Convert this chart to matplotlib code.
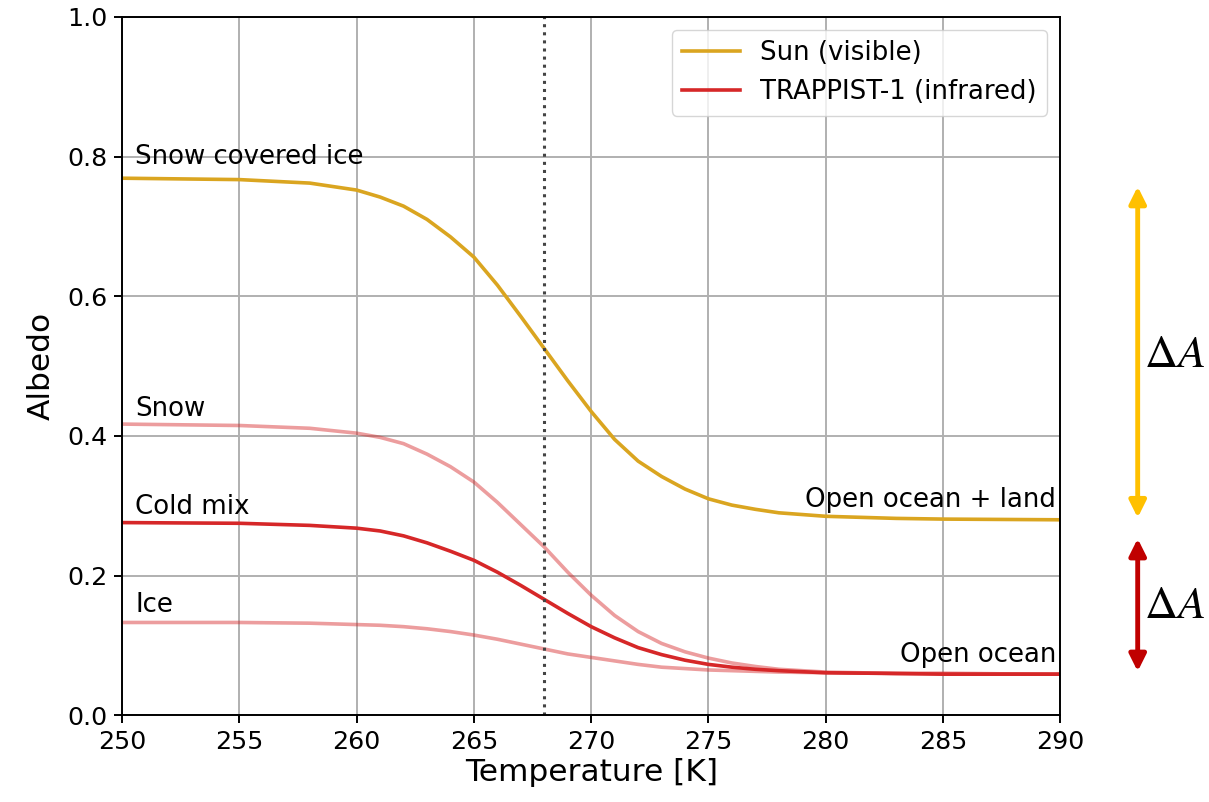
import matplotlib.pyplot as plt

# temperatures [K]
temp = [250, 255, 258, 260, 261, 262, 263, 264, 265, 266, 267, 268, 269, 270,
        271, 272, 273, 274, 275, 276, 277, 278, 280, 283, 285, 290]

# visible albedo (Sun)
sun_vis = [0.769, 0.767, 0.762, 0.752, 0.742, 0.729, 0.710, 0.685, 0.656, 0.616,
           0.571, 0.525, 0.479, 0.435, 0.395, 0.364, 0.342, 0.324, 0.310, 0.301,
           0.295, 0.290, 0.285, 0.282, 0.281, 0.280]

# infrared albedos (TRAPPIST-1)
snow_ir = [0.417, 0.415, 0.411, 0.404, 0.398, 0.389, 0.374, 0.356, 0.334, 0.305,
           0.273, 0.241, 0.205, 0.172, 0.143, 0.120, 0.103, 0.091, 0.082, 0.075,
           0.070, 0.066, 0.062, 0.060, 0.060, 0.059]
coldmix_ir = [0.276, 0.275, 0.272, 0.268, 0.264, 0.257, 0.247, 0.235, 0.222, 0.205,
              0.186, 0.166, 0.146, 0.127, 0.111, 0.097, 0.087, 0.079, 0.073, 0.069,
              0.066, 0.064, 0.061, 0.060, 0.059, 0.059]
ice_ir = [0.133, 0.133, 0.132, 0.130, 0.129, 0.127, 0.124, 0.120, 0.115, 0.109,
          0.102, 0.095, 0.088, 0.083, 0.078, 0.073, 0.069, 0.067, 0.065, 0.064,
          0.063, 0.062, 0.061, 0.060, 0.060, 0.059]

t_freeze = 268

plt.rcParams['mathtext.fontset'] = 'stix'

fig = plt.figure(figsize=(12.09, 8.02), dpi=100)
ax = fig.add_axes([0.101, 0.108, 0.776, 0.871])

ax.plot(temp, sun_vis, color='#DAA520', lw=2.6, label='Sun (visible)')
ax.plot(temp, coldmix_ir, color='#D62728', lw=2.6, label='TRAPPIST-1 (infrared)')
ax.plot(temp, snow_ir, color='#D62728', lw=2.6, alpha=0.45)
ax.plot(temp, ice_ir, color='#D62728', lw=2.6, alpha=0.45)
ax.axvline(t_freeze, color='#444444', ls=':', lw=2.2)

fs = 18.7
ax.text(250.55, 0.789, 'Snow covered ice', fontsize=fs, va='baseline')
ax.text(250.55, 0.428, 'Snow', fontsize=fs, va='baseline')
ax.text(250.55, 0.288, 'Cold mix', fontsize=fs, va='baseline')
ax.text(250.55, 0.148, 'Ice', fontsize=fs, va='baseline')
ax.text(289.83, 0.299, 'Open ocean + land', fontsize=fs, va='baseline', ha='right')
ax.text(289.83, 0.077, 'Open ocean', fontsize=fs, va='baseline', ha='right')

# delta A arrows outside the axes
ax.annotate('', xy=(293.3, 0.757), xytext=(293.3, 0.283), annotation_clip=False,
            arrowprops=dict(arrowstyle='<|-|>', color='#FFC000', lw=3.5,
                            mutation_scale=25, shrinkA=0, shrinkB=0))
ax.annotate('', xy=(293.3, 0.253), xytext=(293.3, 0.063), annotation_clip=False,
            arrowprops=dict(arrowstyle='<|-|>', color='#C00000', lw=3.5,
                            mutation_scale=25, shrinkA=0, shrinkB=0))
ax.text(293.55, 0.516, r'$\Delta A$', fontsize=33, va='center', clip_on=False)
ax.text(293.55, 0.158, r'$\Delta A$', fontsize=33, va='center', clip_on=False)

ax.set_xlim(250, 290)
ax.set_ylim(0, 1)
ax.set_xticks(range(250, 291, 5))
ax.grid(True, color='#b0b0b0', lw=1.4)
ax.tick_params(labelsize=18.2, length=5.5, width=1.4, pad=5)
for sp in ax.spines.values():
    sp.set_linewidth(1.4)
ax.set_xlabel('Temperature [K]', fontsize=22.5, labelpad=3)
ax.set_ylabel('Albedo', fontsize=22.5, labelpad=8)
ax.legend(loc='upper right', fontsize=fs, handlelength=2.2)

fig.savefig('out.png', dpi=100)
